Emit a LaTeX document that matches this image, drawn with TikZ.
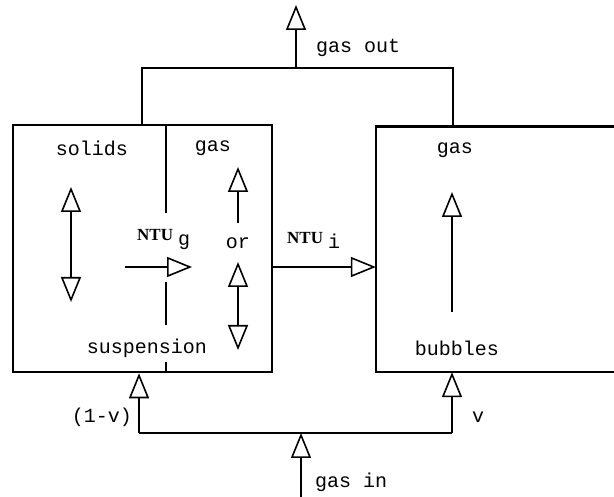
\documentclass[tikz,border=0pt]{standalone}
\usepackage{fontspec}
\setmonofont{Liberation Mono}
\newfontfamily\ntufont{Liberation Serif}
\usetikzlibrary{arrows.meta,positioning}
\newcommand{\ntu}[1]{{\ntufont\fontsize{17}{19}\selectfont\bfseries NTU}\hspace{5pt}\raisebox{-5pt}{#1}}

\begin{document}
\begin{tikzpicture}[x=1pt,y=-1pt,font=\ttfamily\fontsize{20}{24}\selectfont,
  wall/.style={draw,line width=2.6pt,inner sep=0pt},
  flow/.style={line width=1.6pt},
  tip/.style={-{Triangle[open,length=25pt,width=20pt,line width=1.6pt]}},
  dtip/.style={{Triangle[open,length=25pt,width=20pt,line width=1.6pt]}-{Triangle[open,length=25pt,width=20pt,line width=1.6pt]}},
  lbl/.style={inner sep=1pt}]
  \useasboundingbox (0,0) rectangle (614,497);
  % vessels
  \node[wall,minimum width=259pt,minimum height=247pt] (susp) at (142.5,248.5) {};
  \node[inner sep=0pt,minimum width=238pt,minimum height=245pt] (bub) at (495,249.5) {};
  \draw[line width=2.6pt] (bub.north east) -- (bub.north west) -- (bub.south west) -- (bub.south east);
  % divider between solids and gas
  \draw[flow] (166,125) -- (166,213);
  \draw[flow] (166,282) -- (166,325);
  \draw[flow] (166,362) -- (166,372);
  % texts
  \node[lbl] (solids) at (92,148) {solids};
  \node[lbl] (gasL) at (213,148) {gas};
  \node[lbl] (gasR) at (455,150) {gas};
  \node[lbl] (or) at (238,243) {or};
  \node[lbl,anchor=west] (ntug) at (136,240) {\ntu{g}};
  \node[lbl,anchor=west] (ntui) at (286,240) {\ntu{i}};
  \node[lbl] (suspt) at (147,348) {suspension};
  \node[lbl] (bubt) at (457,348) {bubbles};
  \node[lbl,anchor=east] (frac1) at (133,417) {(1-v)};
  \node[lbl] (frac2) at (478,417) {v};
  \node[lbl,anchor=west] (gout) at (315,48) {gas out};
  \node[lbl,anchor=west] (gin) at (314,482) {gas in};
  % gas out header
  \coordinate (hL) at (142,68);
  \coordinate (hR) at (453,68);
  \coordinate (outtip) at (296,5);
  \draw[flow] (hL |- susp.north) -- (hL) -- (hR) -- (hR |- bub.north);
  \draw[flow,tip] (hL -| outtip) -- (outtip);
  % gas in distributor
  \coordinate (bL) at (139,433);
  \coordinate (bR) at (452,433);
  \coordinate (inbot) at (301,497);
  \draw[flow] (bL) -- (bR);
  \draw[flow,tip] (bL) -- (bL |- susp.south);
  \draw[flow,tip] (bR) -- (bR |- bub.south);
  \draw[flow,tip] (inbot) -- (inbot |- bL);
  % flows inside the vessels
  \draw[flow,dtip] (71,187) -- (71,302);
  \draw[flow,tip] (238,223) -- (238,167);
  \draw[flow,dtip] (238,262) -- (238,350);
  \draw[flow,tip] (125,267) -- (192,267);
  \coordinate (mid) at (0,267);
  \draw[flow,tip] (susp.east |- mid) -- (bub.west |- mid);
  \draw[flow,tip] (452,312) -- (452,192);
\end{tikzpicture}
\end{document}
